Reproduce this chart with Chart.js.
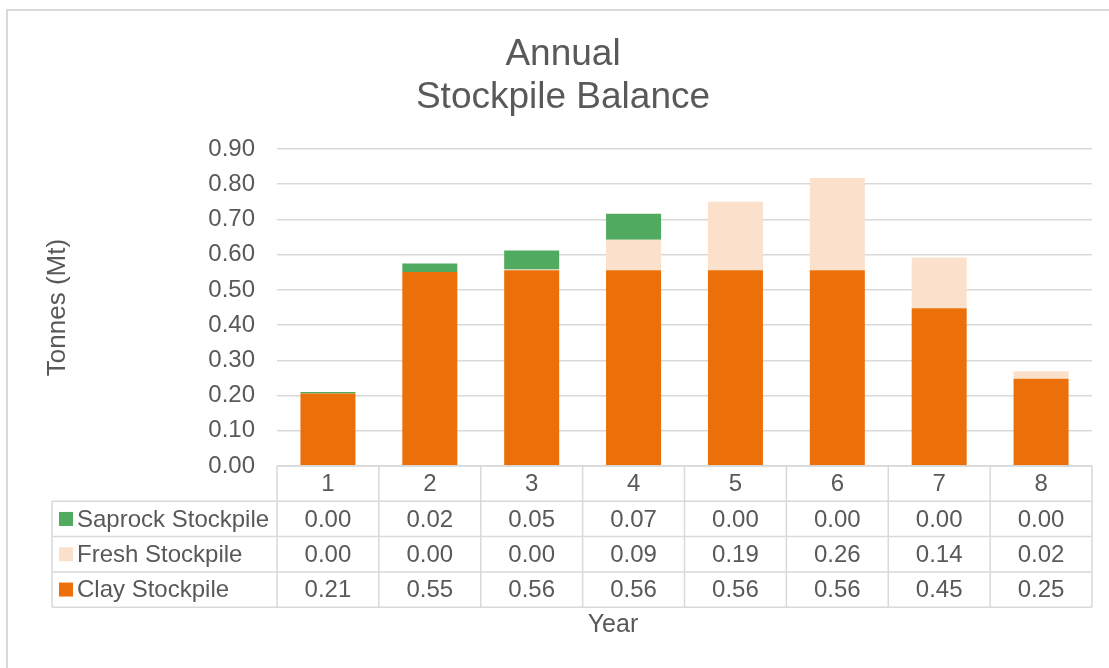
<!DOCTYPE html>
<html>
<head>
<meta charset="utf-8">
<title>Annual Stockpile Balance</title>
<script src="https://cdn.jsdelivr.net/npm/chart.js@4/dist/chart.umd.min.js"></script>
<style>
  html, body { margin: 0; padding: 0; background: #ffffff; }
  #wrap { width: 1109px; height: 668px; }
</style>
</head>
<body>
<div id="wrap"><canvas id="stockChart" width="1109" height="668"></canvas></div>
<script>
// annual stockpile balance (Mt)
const years = ['1', '2', '3', '4', '5', '6', '7', '8'];
const clayStockpile = [0.206, 0.551, 0.556, 0.556, 0.556, 0.556, 0.448, 0.248];
const freshStockpile = [0, 0, 0.002, 0.086, 0.194, 0.262, 0.144, 0.021];
const saprockStockpile = [0.004, 0.024, 0.054, 0.074, 0, 0, 0, 0];
const yTicks = [0, 0.1, 0.2, 0.3, 0.4, 0.5, 0.6, 0.7, 0.8, 0.9];

const FONT = '"Liberation Sans", Arial, sans-serif';
const TEXT = '#595959';
const LINE = '#D9D9D9';

const series = [
    { label: 'Clay Stockpile', data: clayStockpile, color: '#EB700A' },
    { label: 'Fresh Stockpile', data: freshStockpile, color: '#FBE1CC' },
    { label: 'Saprock Stockpile', data: saprockStockpile, color: '#50AA5F' }
];

// frame, titles and the data table under the plot
const decorations = {
    id: 'decorations',
    beforeDraw(chart) {
        const ctx = chart.ctx;
        ctx.save();
        ctx.fillStyle = '#ffffff';
        ctx.fillRect(0, 0, chart.width, chart.height);
        ctx.strokeStyle = LINE;
        ctx.lineWidth = 2;
        ctx.strokeRect(7, 10, chart.width + 20, chart.height + 20);
        ctx.restore();
    },
    afterDraw(chart) {
        const ctx = chart.ctx;
        const area = chart.chartArea;
        const x = chart.scales.x;
        const colW = (area.right - area.left) / years.length;
        const top = area.bottom;
        const rowH = 35.3;
        const bottom = top + rowH * 4;
        const legendLeft = 52;

        ctx.save();
        ctx.strokeStyle = LINE;
        ctx.lineWidth = 1.5;
        ctx.beginPath();
        ctx.moveTo(area.left, top);
        ctx.lineTo(area.right, top);
        for (let r = 1; r <= 4; r++) {
            ctx.moveTo(legendLeft, top + r * rowH);
            ctx.lineTo(area.right, top + r * rowH);
        }
        for (let i = 0; i <= years.length; i++) {
            const bx = area.left + i * colW;
            ctx.moveTo(bx, top);
            ctx.lineTo(bx, bottom);
        }
        ctx.moveTo(legendLeft, top + rowH);
        ctx.lineTo(legendLeft, bottom);
        ctx.stroke();

        ctx.fillStyle = TEXT;
        ctx.font = '24px ' + FONT;
        ctx.textAlign = 'center';
        ctx.textBaseline = 'middle';
        years.forEach((y, i) => {
            ctx.fillText(y, x.getPixelForValue(i), top + rowH / 2 + 1);
        });

        // table rows list the top series first
        const rows = series.slice().reverse();
        rows.forEach((s, r) => {
            const cy = top + rowH * (r + 1) + rowH / 2 + 1;
            ctx.fillStyle = s.color;
            ctx.fillRect(59, cy - 8, 14, 14);
            ctx.fillStyle = TEXT;
            ctx.textAlign = 'left';
            ctx.fillText(s.label, 77, cy);
            ctx.textAlign = 'center';
            s.data.forEach((v, i) => {
                ctx.fillText(v.toFixed(2), x.getPixelForValue(i), cy);
            });
        });

        // chart title
        ctx.font = '37px ' + FONT;
        ctx.textBaseline = 'alphabetic';
        ctx.fillText('Annual', 563, 65);
        ctx.fillText('Stockpile Balance', 563, 108);

        // axis titles
        ctx.font = '25px ' + FONT;
        ctx.fillText('Year', 613, 632);
        ctx.font = '26px ' + FONT;
        ctx.translate(58, (area.top + area.bottom) / 2);
        ctx.rotate(-Math.PI / 2);
        ctx.textBaseline = 'middle';
        ctx.fillText('Tonnes (Mt)', 0, 0);
        ctx.restore();
    }
};

const ctx = document.getElementById('stockChart').getContext('2d');
const stockChart = new Chart(ctx, {
    type: 'bar',
    data: {
        labels: years,
        datasets: series.map(s => ({
            label: s.label,
            data: s.data,
            backgroundColor: s.color,
            borderWidth: 0,
            barPercentage: 0.54,
            categoryPercentage: 1
        }))
    },
    options: {
        responsive: false,
        animation: false,
        devicePixelRatio: 1,
        layout: {
            padding: { left: 0, top: 149, right: 17, bottom: 202 }
        },
        scales: {
            x: {
                display: false,
                stacked: true
            },
            y: {
                stacked: true,
                min: 0,
                max: 0.9,
                afterFit(scale) { scale.width = 277; },
                afterBuildTicks(scale) { scale.ticks = yTicks.map(v => ({ value: v })); },
                ticks: {
                    color: TEXT,
                    padding: 22,
                    font: { family: FONT, size: 24 },
                    callback: v => Number(v).toFixed(2)
                },
                grid: {
                    color: LINE,
                    lineWidth: 1.5,
                    drawTicks: false
                },
                border: { display: false }
            }
        },
        plugins: {
            legend: { display: false },
            title: { display: false },
            tooltip: { enabled: false }
        }
    },
    plugins: [decorations]
});
</script>
</body>
</html>
